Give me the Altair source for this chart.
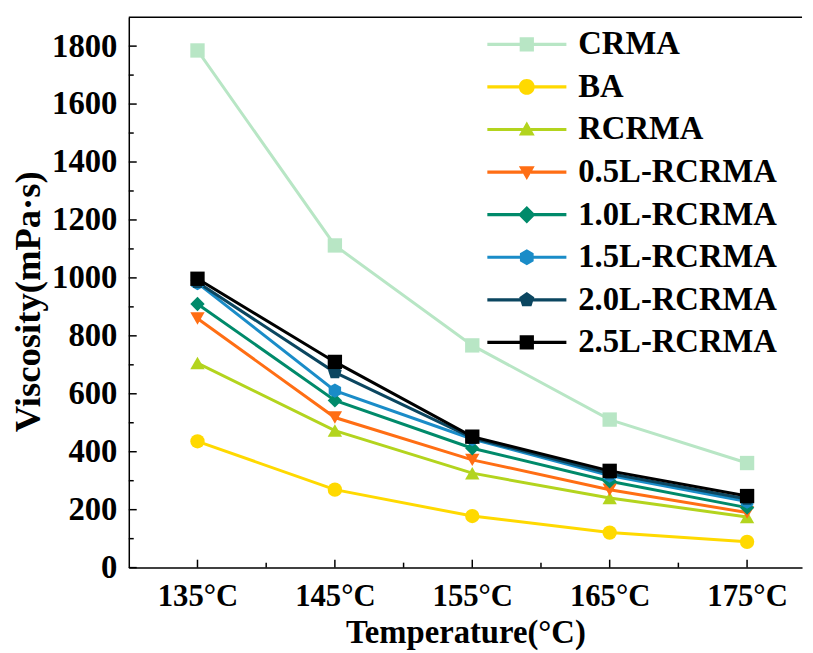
import altair as alt
import pandas as pd

# ---------------- data ----------------
temps = [135, 145, 155, 165, 175]
series = ["CRMA", "BA", "RCRMA", "0.5L-RCRMA", "1.0L-RCRMA",
          "1.5L-RCRMA", "2.0L-RCRMA", "2.5L-RCRMA"]
crma = [1785, 1112, 767, 511, 361]
ba = [436, 269, 178, 121, 89]
rcrma = [706, 473, 326, 240, 175]
l05 = [860, 518, 372, 269, 190]
l10 = [910, 577, 412, 298, 207]
l15 = [982, 611, 444, 318, 228]
l20 = [985, 674, 448, 325, 237]
l25 = [997, 710, 452, 334, 247]
values = [crma, ba, rcrma, l05, l10, l15, l20, l25]

colors = ["#B8E6C5", "#FFD900", "#B3D41E", "#FF6E14", "#008A6A",
          "#1A8CC8", "#0B4660", "#000000"]

y_major = list(range(0, 1801, 200))
y_minor = list(range(100, 1800, 200))
x_major = temps
x_minor = [140, 150, 160, 170]

rows = []
for name, vals in zip(series, values):
    for t, v in zip(temps, vals):
        rows.append({"Temperature": t, "Viscosity": v, "Series": name})
df = pd.DataFrame(rows)

# ---------------- styling ----------------
W, H = 680, 556
FONT = "Liberation Serif"

HEX = "M0,-1L0.866,-0.5L0.866,0.5L0,1L-0.866,0.5L-0.866,-0.5Z"
PENT = "M0,-1L0.951,-0.309L0.588,0.809L-0.588,0.809L-0.951,-0.309Z"
point_shapes = ["square", "circle", "triangle-up", "triangle-down",
                "diamond", HEX, PENT, "square"]


def fmt(v):
    return f"{v:.4f}".rstrip("0").rstrip(".")


def poly(pts, s):
    return "M" + "L".join(f"{fmt(x * s)},{fmt(y * s)}" for x, y in pts) + "Z"


def legend_path(kind):
    t = 0.04
    bar = (f"M-1,{fmt(-t)}L-0.1,{fmt(-t)}L-0.1,{fmt(t)}L-1,{fmt(t)}Z"
           f"M0.1,{fmt(-t)}L1,{fmt(-t)}L1,{fmt(t)}L0.1,{fmt(t)}Z")
    s = 0.2
    if kind == "square":
        m = poly([(-0.9, -0.9), (0.9, -0.9), (0.9, 0.9), (-0.9, 0.9)], s)
    elif kind == "circle":
        r = fmt(s)
        m = f"M-{r},0A{r},{r} 0 1,1 {r},0A{r},{r} 0 1,1 -{r},0Z"
    elif kind == "triangle-up":
        m = poly([(0, -1), (1, 0.75), (-1, 0.75)], s)
    elif kind == "triangle-down":
        m = poly([(-1, -0.75), (1, -0.75), (0, 1)], s)
    elif kind == "diamond":
        m = poly([(0, -1.1), (1.1, 0), (0, 1.1), (-1.1, 0)], s)
    elif kind == "hex":
        m = poly([(0, -1), (0.866, -0.5), (0.866, 0.5), (0, 1),
                  (-0.866, 0.5), (-0.866, -0.5)], s)
    else:
        m = poly([(0, -1), (0.951, -0.309), (0.588, 0.809),
                  (-0.588, 0.809), (-0.951, -0.309)], s)
    return bar + m


legend_shapes = [legend_path(k) for k in
                 ["square", "circle", "triangle-up", "triangle-down",
                  "diamond", "hex", "pent", "square"]]

xscale = alt.Scale(domain=[130, 179], nice=False, zero=False)
yscale = alt.Scale(domain=[0, 1900], nice=False, zero=False)

x_axis = alt.Axis(
    values=x_major, labelExpr="datum.value + '°C'", ticks=False, grid=False,
    domainColor="black", domainWidth=1.5, labelFont=FONT, labelFontSize=31,
    labelFontWeight="bold", labelColor="black", labelPadding=14,
    title="Temperature(°C)", titleFont=FONT, titleFontSize=33,
    titleFontWeight="bold", titleColor="black", titleBaseline="alphabetic",
    titleY=76,
)
y_axis = alt.Axis(
    values=y_major, format="d", ticks=False, grid=False, domainColor="black",
    domainWidth=1.5, labelFont=FONT, labelFontSize=33, labelFontWeight="bold",
    labelColor="black", labelPadding=12, title="Viscosity(mPa·s)",
    titleFont=FONT, titleFontSize=37, titleFontWeight="bold",
    titleColor="black", titleX=-82, titleY=287,
)

color_scale = alt.Scale(domain=series, range=colors)


def X(field):
    return alt.X(field, scale=xscale, axis=x_axis)


def Y(field):
    return alt.Y(field, scale=yscale, axis=y_axis)


lines = alt.Chart(df).mark_line(strokeWidth=3).encode(
    x=X("Temperature:Q"),
    y=Y("Viscosity:Q"),
    color=alt.Color("Series:N", scale=color_scale, legend=None),
    order=alt.Order("Temperature:Q"),
)

points = alt.Chart(df).mark_point(filled=True, size=210, opacity=1).encode(
    x=X("Temperature:Q"),
    y=Y("Viscosity:Q"),
    color=alt.Color("Series:N", scale=color_scale, legend=None),
    shape=alt.Shape("Series:N", scale=alt.Scale(domain=series, range=point_shapes),
                    legend=None),
)

leg_props = dict(
    title=None, orient="none", legendX=362, legendY=6, symbolSize=6400,
    symbolStrokeWidth=0, symbolOpacity=1, clipHeight=43, rowPadding=0,
    labelOffset=12, labelFont=FONT, labelFontSize=33, labelFontWeight="bold",
    labelColor="black", labelLimit=500, padding=0,
)

legend_layer = alt.Chart(df).mark_point(filled=True, opacity=0, size=1).encode(
    x=X("Temperature:Q"),
    y=Y("Viscosity:Q"),
    color=alt.Color("Series:N", scale=color_scale, legend=alt.Legend(**leg_props)),
    shape=alt.Shape("Series:N", scale=alt.Scale(domain=series, range=legend_shapes),
                    legend=alt.Legend(**leg_props)),
)

xt_major = alt.Chart(pd.DataFrame({"t": x_major})).mark_rule(
    color="black", strokeWidth=1.5).encode(
    x=X("t:Q"), y=alt.value(H), y2=alt.value(H - 8))
xt_minor = alt.Chart(pd.DataFrame({"t": x_minor})).mark_rule(
    color="black", strokeWidth=1.5).encode(
    x=X("t:Q"), y=alt.value(H), y2=alt.value(H - 5))
yt_major = alt.Chart(pd.DataFrame({"v": y_major})).mark_rule(
    color="black", strokeWidth=1.5).encode(
    y=Y("v:Q"), x=alt.value(0), x2=alt.value(8))
yt_minor = alt.Chart(pd.DataFrame({"v": y_minor})).mark_rule(
    color="black", strokeWidth=1.5).encode(
    y=Y("v:Q"), x=alt.value(0), x2=alt.value(5))
top_border = alt.Chart(pd.DataFrame({"v": [1900]})).mark_rule(
    color="black", strokeWidth=1.5).encode(
    y=Y("v:Q"), x=alt.value(0), x2=alt.value(W))

chart = alt.layer(
    lines, xt_major, xt_minor, yt_major, yt_minor, top_border, points, legend_layer
).resolve_scale(
    color="independent", shape="independent"
).properties(
    width=W, height=H,
    autosize=alt.AutoSizeParams(type="none"),
    padding={"left": 122, "top": 6, "right": 3, "bottom": 83},
    background="white",
).configure_view(stroke=None)

chart.save("out.html", embed_options={"renderer": "svg", "actions": False})
